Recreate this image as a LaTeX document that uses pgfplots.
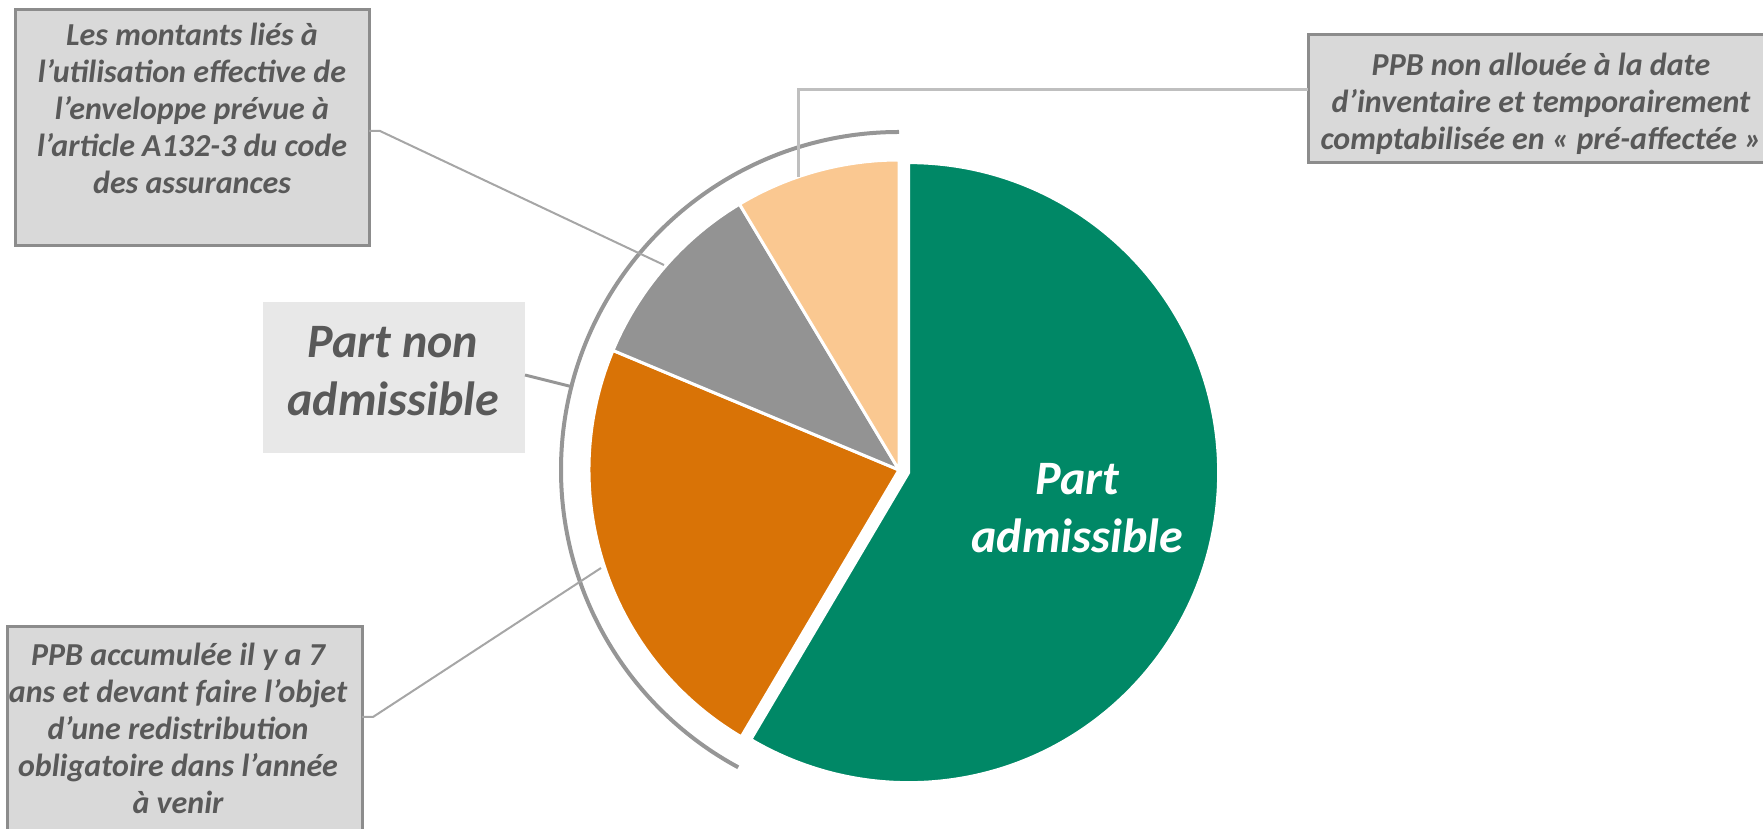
\documentclass[border=0pt]{standalone}
\usepackage{pgfplots}
\pgfplotsset{compat=1.18}
\usepackage{pgfplotstable}
\usetikzlibrary{calc}
\usepackage{fontspec}
\setmainfont{Carlito}

\definecolor{vert}{RGB}{0,136,102}
\definecolor{orange}{RGB}{217,115,6}
\definecolor{gris}{RGB}{147,147,147}
\definecolor{peche}{RGB}{250,200,145}
\definecolor{texte}{RGB}{89,89,89}
\definecolor{cadre}{RGB}{140,140,140}
\definecolor{fond}{RGB}{217,217,217}
\definecolor{fondclair}{RGB}{232,232,232}
\definecolor{anneau}{RGB}{150,150,150}

\tikzset{
    small/.style={font={\fontsize{16}{18.5}\selectfont\bfseries\itshape}, text=texte, align=center},
    big/.style={font={\fontsize{24}{29}\selectfont\bfseries\itshape}, align=center}
}

% parts in %, clockwise from 12 o'clock
\pgfplotstableread{
part value
admissible 58.5
ppb7ans 22.8
a132 10.1
preaff 8.6
}\parts

\begin{document}
\begin{tikzpicture}
\pgfplotstablegetelem{0}{value}\of\parts \pgfmathsetmacro\vA{\pgfplotsretval}
\pgfplotstablegetelem{1}{value}\of\parts \pgfmathsetmacro\vB{\pgfplotsretval}
\pgfplotstablegetelem{2}{value}\of\parts \pgfmathsetmacro\vC{\pgfplotsretval}
\pgfplotstablegetelem{3}{value}\of\parts \pgfmathsetmacro\vD{\pgfplotsretval}
\pgfmathsetmacro\aA{90-3.6*\vA}
\pgfmathsetmacro\aB{\aA-3.6*\vB}
\pgfmathsetmacro\aC{\aB-3.6*\vC}
\pgfmathsetmacro\aD{\aC-3.6*\vD}
\pgfmathsetmacro\mA{(90+\aA)/2}
\begin{axis}[
    hide axis,
    x=0.5pt, y=0.5pt,
    xmin=0, xmax=1763, ymin=0, ymax=829,
    clip=false
]
\addplot[draw=none] coordinates {(0,0) (1763,829)};
\coordinate (BL) at (axis cs:0,0);
\coordinate (TR) at (axis cs:1763,829);

% slices
\filldraw[fill=vert, draw=white, line width=1.5pt]
    ($(axis cs:899,359)+(\mA:5pt)$) -- ++(90:155pt) arc[start angle=90, end angle=\aA, radius=155pt] -- cycle;
\filldraw[fill=orange, draw=white, line width=1.5pt]
    (axis cs:899,359) -- ++(\aA:155pt) arc[start angle=\aA, end angle=\aB, radius=155pt] -- cycle;
\filldraw[fill=gris, draw=white, line width=1.5pt]
    (axis cs:899,359) -- ++(\aB:155pt) arc[start angle=\aB, end angle=\aC, radius=155pt] -- cycle;
\filldraw[fill=peche, draw=white, line width=1.5pt]
    (axis cs:899,359) -- ++(\aC:155pt) arc[start angle=\aC, end angle=\aD, radius=155pt] -- cycle;

% outer ring round the non admissible part
\draw[anneau, line width=2pt] (axis cs:899,359) ++(90:169pt) arc[start angle=90, end angle=241.6, radius=169pt];

% boxes
\filldraw[fill=fond, draw=cadre, line width=1.5pt] (axis cs:15,819) rectangle (axis cs:369,583);
\filldraw[fill=fond, draw=cadre, line width=1.5pt] (axis cs:1308,794) rectangle (axis cs:1800,666);
\fill[fondclair] (axis cs:263,527) rectangle (axis cs:525,376);
\filldraw[fill=fond, draw=cadre, line width=1.5pt] (axis cs:7,202) rectangle (axis cs:362,-30);

% leader lines
\draw[black!35, line width=1pt] (axis cs:369,698) -- (axis cs:380,698) -- (axis cs:664,564);
\draw[black!25, line width=1.5pt] (axis cs:798,652) -- (axis cs:798,739) -- (axis cs:1308,739);
\draw[anneau, line width=1.5pt] (axis cs:525,454) -- (axis cs:573,442);
\draw[black!35, line width=1pt] (axis cs:362,112) -- (axis cs:373,112) -- (axis cs:601,261);

% texts
\node[small] at (axis cs:192,721) {Les montants liés à\\l’utilisation effective de\\l’enveloppe prévue à\\l’article A132-3 du code\\des assurances};
\node[small] at (axis cs:1541,725) {PPB non allouée à la date\\d’inventaire et temporairement\\comptabilisée en «~pré-affectée~»};
\node[small] at (axis cs:178,101) {PPB accumulée il y a 7\\ans et devant faire l’objet\\d’une redistribution\\obligatoire dans l’année\\à venir};
\node[big, text=texte] at (axis cs:393,457.5) {Part non\\admissible};
\node[big, text=white] at (axis cs:1077,320.5) {Part\\admissible};
\end{axis}
\pgfresetboundingbox
\path[use as bounding box] (BL) rectangle (TR);
\end{tikzpicture}
\end{document}
